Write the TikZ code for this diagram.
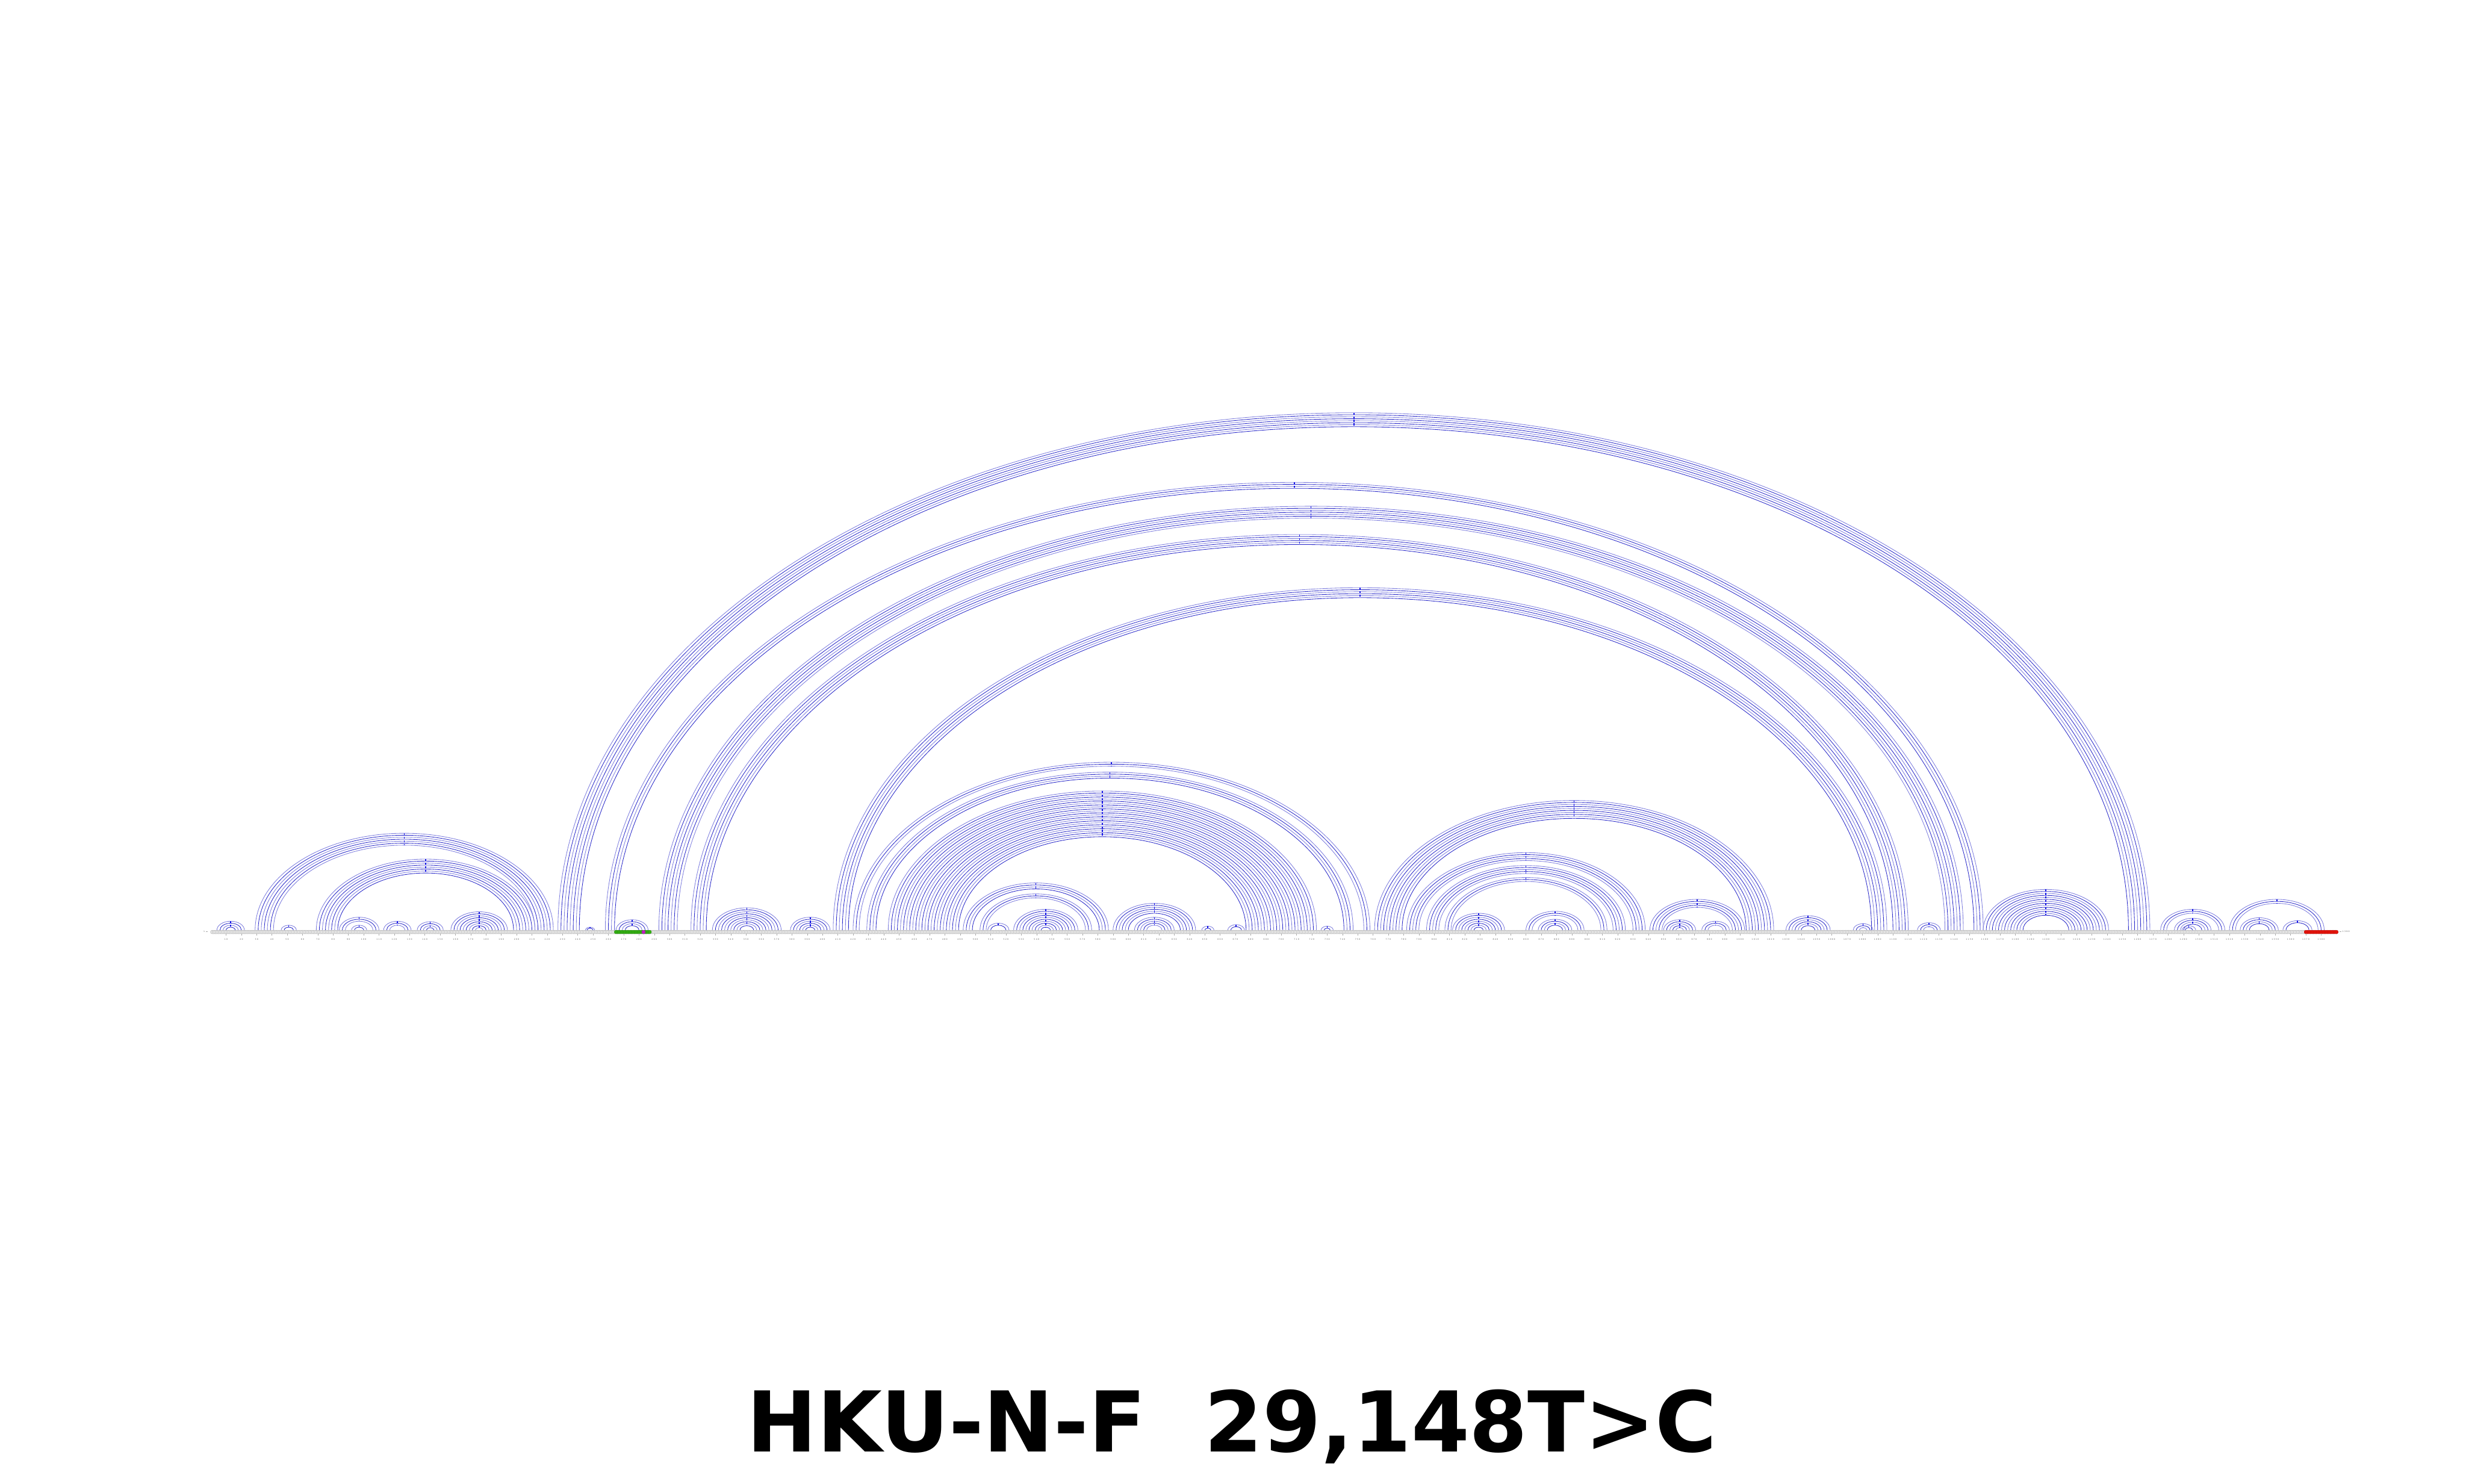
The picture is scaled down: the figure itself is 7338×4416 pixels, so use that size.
\documentclass[tikz,border=0pt]{standalone}
\usepackage{fontspec}
\usepackage{tikz}
\newfontfamily\titlefont{DejaVu Sans}
\newfontfamily\tickfont[LetterSpace=40]{DejaVu Sans}
\definecolor{ArcBlue}{HTML}{2626C8}
\definecolor{MarkBlue}{HTML}{1414E6}
\definecolor{BeadFill}{HTML}{EBEBEB}
\definecolor{BeadLine}{HTML}{A6A6A6}
\definecolor{RegionGreen}{HTML}{35B414}
\definecolor{RegionRed}{HTML}{E8140C}
\definecolor{PointMagenta}{HTML}{C21FC2}
\definecolor{TickGrey}{HTML}{4A4A4A}
\tikzset{
  arcline/.style={line width=0.15mm},
  apexmark/.style={draw=MarkBlue,line width=0.28mm,dash pattern=on 0.6mm off 0.45mm},
  bead/.style={fill=BeadFill,draw=BeadLine,line width=0.06mm},
  greenbead/.style={fill=RegionGreen,draw=RegionGreen!70!black,line width=0.06mm},
  redbead/.style={fill=RegionRed,draw=RegionRed!80!black,line width=0.06mm},
  snpbead/.style={fill=PointMagenta,draw=PointMagenta!70!black,line width=0.06mm},
  seqtick/.style={draw=BeadLine,line width=0.08mm},
  seqlabel/.style={font=\tickfont\fontsize{1.6}{2}\selectfont,text=TickGrey,inner sep=0pt}
}

\begin{document}
\begin{tikzpicture}[x=0.1mm,y=0.1mm]
  \fill[white] (0,0) rectangle (7338,4416);
  \useasboundingbox (0,0) rectangle (7338,4416);
  \begin{scope}[shift={(62.72mm,164.8mm)},x=0.45506mm,y=0.45506mm]
    % helices: first pair i/j, number of arcs, step
    \foreach \i/\j/\n/\s in {4/22/4/2, 46/56/2/2, 29/224/7/2, 69/212/8/2, 84/110/3/2,
        92/102/2/2, 113/131/3/2, 135/152/4/2, 157/194/9/2, 227/1268/8/2, 245/251/2/1,
        258/1159/4/2, 265/286/4/2, 293/1146/7/2, 314/1110/6/2, 328/373/10/2,
        379/405/6/2, 407/1096/6/2, 420/758/3/2, 429/747/4/2, 443/723/24/2,
        492/587/4/2, 503/576/3/2, 508/522/2/2, 525/567/10/2, 590/644/6/2,
        604/630/5/2, 648/656/2/2, 665/676/2/2, 726/734/2/2, 761/1022/10/2,
        782/938/5/2, 795/925/5/2, 807/913/3/2, 812/846/8/2, 860/898/3/2,
        868/890/4/2, 941/1003/5/2, 950/971/5/2, 975/993/3/2, 1030/1059/6/2,
        1074/1087/3/2, 1116/1131/3/2, 1159/1241/14/2, 1275/1317/3/2,
        1284/1308/4/2, 1289/1298/2/2, 1320/1382/3/2, 1327/1352/4/2, 1355/1374/2/2} {
      \foreach \k in {1,...,\n} {
        \pgfmathsetmacro\a{\i+(\k-1)*\s}
        \pgfmathsetmacro\r{(\j-\i)/2-(\k-1)*\s}
        \pgfmathtruncatemacro\tone{100-40*isodd(\k)}
        \draw[arcline,draw=ArcBlue!\tone] (\a,0) arc[start angle=180,end angle=0,x radius=\r,y radius=0.65*\r];
      }
      \pgfmathsetmacro\m{(\i+\j)/2}
      \pgfmathsetmacro\ho{0.65*(\j-\i)/2}
      \pgfmathsetmacro\hi{0.65*((\j-\i)/2-(\n-1)*\s)}
      \draw[apexmark] (\m,\ho) -- (\m,\hi);
    }
    % sequence beads
    \foreach \p in {1,...,1390}
      \draw[bead] (\p,-1.21) circle[radius=1.21];
    \foreach \p in {265,...,287}
      \draw[greenbead] (\p,-1.21) circle[radius=1.21];
    \draw[snpbead] (283,-1.21) circle[radius=1.21];
    \foreach \p in {1370,...,1390}
      \draw[redbead] (\p,-1.21) circle[radius=1.21];
    % position scale
    \foreach \p in {10,20,...,1380} {
      \draw[seqtick] (\p,-2.45) -- (\p,-3.6);
      \node[seqlabel] (pos\p) at (\p,-6.15) {\p};
    }
    \node[seqlabel] (seqstart) at (-4.3,-1.0) {1};
    \draw[seqtick] ([xshift=0.25mm]seqstart.east) -- ++(0.6mm,0);
    \node[seqlabel,anchor=west] (seqend) at (1393.8,-1.0) {1390};
    \draw[seqtick] ([xshift=-0.25mm]seqend.west) -- ++(-0.6mm,0);
  \end{scope}
  \node[font=\titlefont\bfseries\fontsize{71}{80}\selectfont,anchor=base,inner sep=0pt] (title) at (3666,96) {HKU-N-F\ \ 29,148T>C};
\end{tikzpicture}
\end{document}
